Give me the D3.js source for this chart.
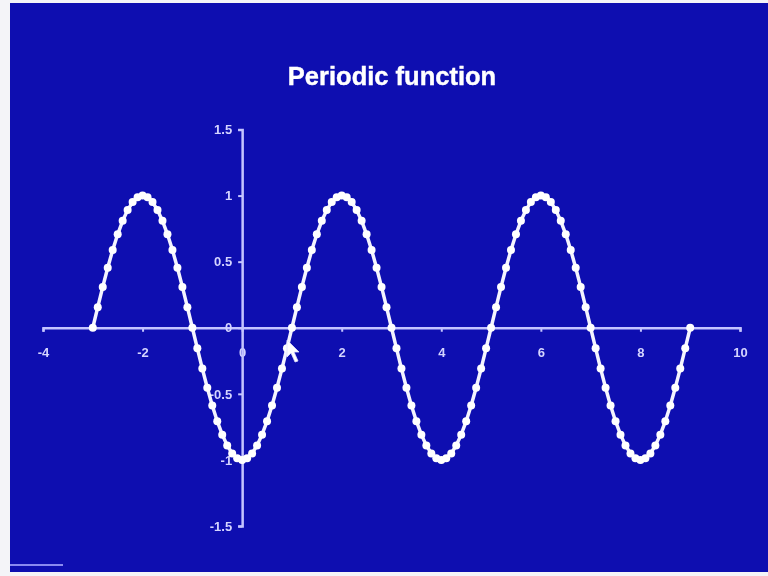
<!DOCTYPE html>
<html>
<head>
<meta charset="utf-8">
<script src="https://cdn.jsdelivr.net/npm/d3@7"></script>
<style>
  html, body { margin: 0; padding: 0; background: #ffffff; }
  svg { display: block; }
</style>
</head>
<body>
<svg id="chart" width="768" height="576"></svg>
<script>
// Sampled periodic signal, x from -3 to 9 in steps of 0.1
const xValues = [
  -3.0,-2.9,-2.8,-2.7,-2.6,-2.5,-2.4,-2.3,-2.2,-2.1,
  -2.0,-1.9,-1.8,-1.7,-1.6,-1.5,-1.4,-1.3,-1.2,-1.1,
  -1.0,-0.9,-0.8,-0.7,-0.6,-0.5,-0.4,-0.3,-0.2,-0.1,
   0.0, 0.1, 0.2, 0.3, 0.4, 0.5, 0.6, 0.7, 0.8, 0.9,
   1.0, 1.1, 1.2, 1.3, 1.4, 1.5, 1.6, 1.7, 1.8, 1.9,
   2.0, 2.1, 2.2, 2.3, 2.4, 2.5, 2.6, 2.7, 2.8, 2.9,
   3.0, 3.1, 3.2, 3.3, 3.4, 3.5, 3.6, 3.7, 3.8, 3.9,
   4.0, 4.1, 4.2, 4.3, 4.4, 4.5, 4.6, 4.7, 4.8, 4.9,
   5.0, 5.1, 5.2, 5.3, 5.4, 5.5, 5.6, 5.7, 5.8, 5.9,
   6.0, 6.1, 6.2, 6.3, 6.4, 6.5, 6.6, 6.7, 6.8, 6.9,
   7.0, 7.1, 7.2, 7.3, 7.4, 7.5, 7.6, 7.7, 7.8, 7.9,
   8.0, 8.1, 8.2, 8.3, 8.4, 8.5, 8.6, 8.7, 8.8, 8.9,
   9.0
];
const yValues = [
   0.000, 0.156, 0.309, 0.454, 0.588, 0.707, 0.809, 0.891, 0.951, 0.988,
   1.000, 0.988, 0.951, 0.891, 0.809, 0.707, 0.588, 0.454, 0.309, 0.156,
   0.000,-0.156,-0.309,-0.454,-0.588,-0.707,-0.809,-0.891,-0.951,-0.988,
  -1.000,-0.988,-0.951,-0.891,-0.809,-0.707,-0.588,-0.454,-0.309,-0.156,
   0.000, 0.156, 0.309, 0.454, 0.588, 0.707, 0.809, 0.891, 0.951, 0.988,
   1.000, 0.988, 0.951, 0.891, 0.809, 0.707, 0.588, 0.454, 0.309, 0.156,
   0.000,-0.156,-0.309,-0.454,-0.588,-0.707,-0.809,-0.891,-0.951,-0.988,
  -1.000,-0.988,-0.951,-0.891,-0.809,-0.707,-0.588,-0.454,-0.309,-0.156,
   0.000, 0.156, 0.309, 0.454, 0.588, 0.707, 0.809, 0.891, 0.951, 0.988,
   1.000, 0.988, 0.951, 0.891, 0.809, 0.707, 0.588, 0.454, 0.309, 0.156,
   0.000,-0.156,-0.309,-0.454,-0.588,-0.707,-0.809,-0.891,-0.951,-0.988,
  -1.000,-0.988,-0.951,-0.891,-0.809,-0.707,-0.588,-0.454,-0.309,-0.156,
   0.000
];
const xTicks = [-4, -2, 0, 2, 4, 6, 8, 10];
const yTicks = [-1.5, -1, -0.5, 0, 0.5, 1, 1.5];
const titleText = "Periodic function";

const svg = d3.select("#chart");
const W = 768, H = 576;

// Slide backdrop with thin light frame on left/top/bottom
svg.append("rect").attr("width", W).attr("height", H).attr("fill", "#f4f4f8");
svg.append("rect")
  .attr("x", 10).attr("y", 3).attr("width", W - 10).attr("height", H - 7)
  .attr("fill", "#0e0eb0");

const x = d3.scaleLinear().domain([-4, 10]).range([43, 740]);
const y = d3.scaleLinear().domain([-1.5, 1.5]).range([526, 129.5]);

const axisColor = "#c4c4ff";
const labelFont = "'Liberation Sans', Arial, sans-serif";

// Soft glow shared by the text and the curve
const defs = svg.append("defs");
defs.append("filter").attr("id", "soft")
  .attr("x", "-10%").attr("y", "-10%").attr("width", "120%").attr("height", "120%")
  .append("feGaussianBlur").attr("stdDeviation", 0.6);

// Title
svg.append("text")
  .attr("x", 392).attr("y", 85)
  .attr("text-anchor", "middle")
  .attr("font-family", labelFont)
  .attr("font-weight", "bold")
  .attr("font-size", 25.5)
  .attr("fill", "#ffffff")
  .attr("stroke", "#ffffff")
  .attr("stroke-width", 0.4)
  .attr("filter", "url(#soft)")
  .text(titleText);

// Horizontal axis through y = 0
const xAxis = d3.axisBottom(x).tickValues(xTicks).tickSize(4).tickPadding(16)
  .tickFormat(d => String(d));
const gx = svg.append("g").attr("transform", `translate(0,${y(0)})`).call(xAxis);

// Vertical axis through x = 0
const yAxis = d3.axisLeft(y).tickValues(yTicks).tickSize(4).tickPadding(6)
  .tickFormat(d => String(d));
const gy = svg.append("g").attr("transform", `translate(${x(0)},0)`).call(yAxis);

[gx, gy].forEach(g => {
  g.select(".domain").attr("stroke", axisColor).attr("stroke-width", 2.5);
  g.selectAll(".tick line").attr("stroke", axisColor).attr("stroke-width", 2);
  g.selectAll(".tick text")
    .attr("fill", "#d4d4ff")
    .attr("font-family", labelFont)
    .attr("font-weight", "bold")
    .attr("font-size", 13)
    .attr("filter", "url(#soft)");
});

// Curve and sample markers
const pts = xValues.map((v, i) => [v, yValues[i]]);
const line = d3.line().x(d => x(d[0])).y(d => y(d[1]));

const curve = svg.append("g").attr("filter", "url(#soft)");
curve.append("path")
  .datum(pts)
  .attr("d", line)
  .attr("fill", "none")
  .attr("stroke", "#f4f4ff")
  .attr("stroke-width", 3.5);

curve.append("g").selectAll("circle")
  .data(pts)
  .join("circle")
  .attr("cx", d => x(d[0]))
  .attr("cy", d => y(d[1]))
  .attr("r", 4)
  .attr("fill", "#ffffff");

// Pointer arrow
svg.append("path")
  .attr("d", "M287,340 L287,357 L291,353 L295,362 L298,361 L294,352 L299,352 Z")
  .attr("fill", "#ffffff")
  .attr("stroke", "#e0e0ff")
  .attr("stroke-width", 0.8);

// Small corner mark at lower left
svg.append("rect").attr("x", 10).attr("y", 564).attr("width", 53).attr("height", 2).attr("fill", "#8a8af0");
</script>
</body>
</html>
